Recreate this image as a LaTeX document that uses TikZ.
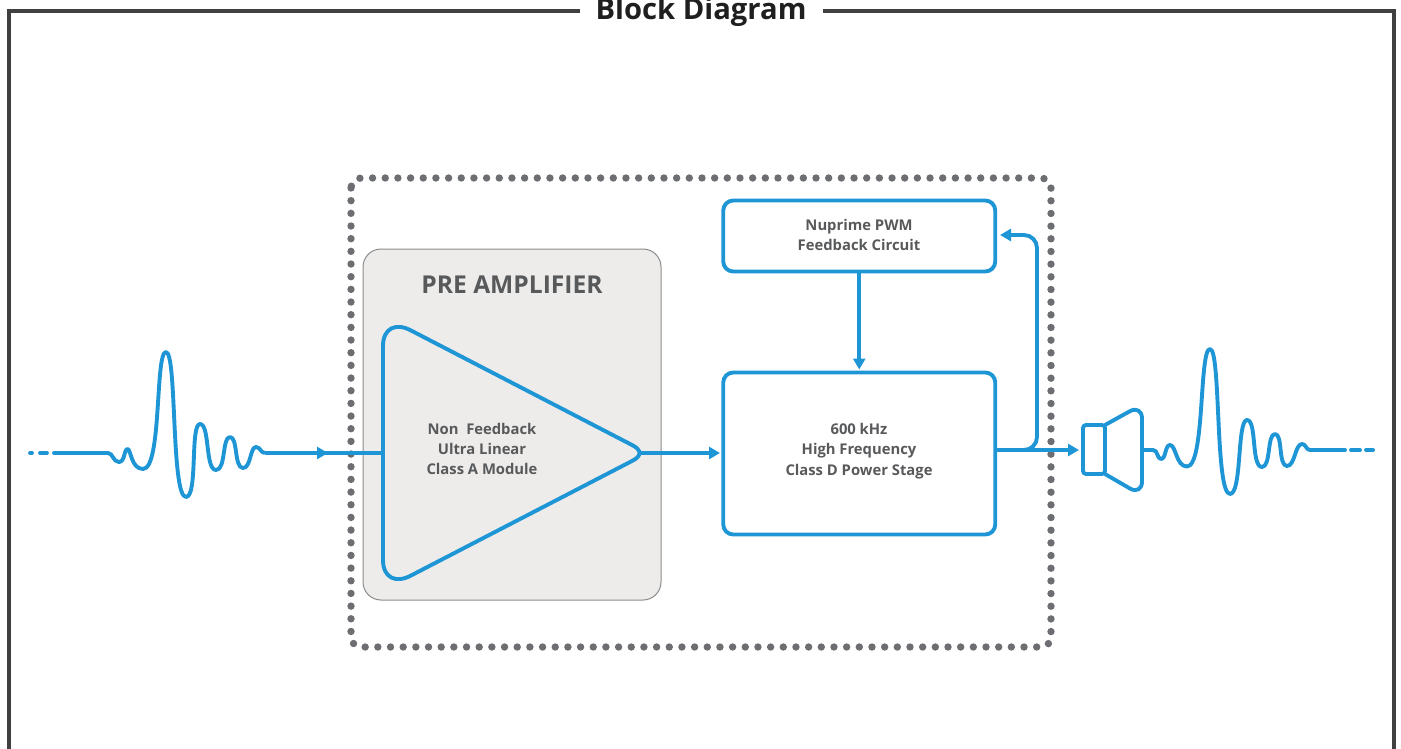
\documentclass[tikz,border=0pt]{standalone}
\usepackage{fontspec}
\setmainfont{Open Sans}
\usetikzlibrary{arrows.meta}
\definecolor{wire}{HTML}{1E96D6}
\definecolor{framec}{HTML}{404040}
\definecolor{dotc}{HTML}{6D6E71}
\definecolor{labelc}{HTML}{58595B}
\definecolor{panel}{HTML}{EDECEB}
\tikzset{
  wire/.style={draw=wire,line width=3.9pt,line join=round},
  arrowline/.style={wire,-{Triangle[length=11pt,width=12pt]}},
  blockbox/.style={draw=wire,line width=3.9pt,rounded corners=10pt,inner sep=0pt,outer sep=0pt},
  lbl/.style={text=labelc,align=center,font=\bfseries\fontsize{14.8}{20.3}\selectfont,inner sep=0pt},
}
\begin{document}
\begin{tikzpicture}[x=1pt,y=-1pt]
\useasboundingbox (0,0) rectangle (1401,749);
% frame
\coordinate (fbl) at (8.5,760);
\coordinate (fbr) at (1394,760);
\coordinate (ftl) at (8.5,11);
\coordinate (ftr) at (1394,11);
\coordinate (tl) at (580,11);
\coordinate (tr) at (823,11);
\draw[framec,line width=4pt] (tl) -- (ftl) -- (fbl);
\draw[framec,line width=4pt] (tr) -- (ftr) -- (fbr);
\node[inner sep=0pt,text=black!88,font=\bfseries\fontsize{29.2}{32}\selectfont,anchor=base] (title) at (701,20) {Block Diagram};
% dotted enclosure
\draw[dotc,line width=7.4pt,line cap=round,dash pattern=on 0pt off 12.67pt,rounded corners=10pt] (351,178) rectangle (1051,647);
% pre amplifier panel
\node[draw=black!45,fill=panel,line width=1pt,rounded corners=18pt,minimum width=298pt,minimum height=351pt,inner sep=0pt,outer sep=0pt] (pre) at (512,424.5) {};
\node[text=labelc,inner sep=0pt,font=\bfseries\fontsize{24.6}{28}\selectfont] (pretitle) at (512,284.5) {PRE AMPLIFIER};
% input wave
\coordinate (inL) at (64,453);
\coordinate (inR) at (265,453);
\coordinate (ampIn) at (383,453);
\coordinate (ampOut) at (640,453);
\draw[wire,line cap=round,dash pattern=on 2pt off 8pt on 7pt off 7pt on 9pt off 0pt] (30,453) -- (inL);
\draw[wire] (inL) -- (108,453)
  .. controls (113,453) and (113,462) .. (119,462)
  .. controls (125,462) and (124,449) .. (127.5,449)
  .. controls (131,449) and (131,469) .. (143,469)
  .. controls (162,469) and (155,352) .. (166,352)
  .. controls (177,352) and (171,497) .. (186,497)
  .. controls (198,497) and (190,424) .. (200,424)
  .. controls (210,424) and (205,470) .. (216,470)
  .. controls (226,470) and (222,437) .. (230,437)
  .. controls (238,437) and (234,468) .. (243,468)
  .. controls (251,468) and (250,447) .. (256,447)
  .. controls (260,447) and (261,453) .. (inR);
\draw[arrowline] (inR) -- (328,453);
\draw[wire] (320,453) -- (ampIn);
% amplifier triangle
\draw[wire] (383,346)
  .. controls (383,328) and (396,322) .. (412,331)
  -- (632,445) .. controls (642,450) and (642,456) .. (632,461)
  -- (412,575) .. controls (396,584) and (383,578) .. (383,560) -- cycle;
\node[lbl] (amp) at (482,449) {Non\ \ Feedback\\Ultra Linear\\Class A Module};
% blocks
\node[blockbox,minimum width=272pt,minimum height=71pt] (pwm) at (859.25,236) {};
\node[lbl] (pwmt) at (859,235) {Nuprime PWM\\Feedback Circuit};
\node[blockbox,minimum width=272pt,minimum height=162pt] (power) at (859.25,453.5) {};
\node[lbl] (powert) at (859,451) {600 kHz\\High Frequency\\Class D Power Stage};
\draw[arrowline] (ampOut) -- (720,453);
\draw[arrowline,shorten >=3pt] (pwm.south) -- (power.north);
% output
\coordinate (pOut) at (995,450);
\coordinate (spk) at (1079,450);
\coordinate (pwmIn) at (1000,235);
\draw[arrowline] (pOut) -- (spk);
\draw[arrowline,rounded corners=13pt] (1020,450) -- (1037,450) -- (1037,235) -- (pwmIn);
% speaker
\draw[wire,rounded corners=3pt] (1083,425) rectangle (1105,474);
\draw[wire,rounded corners=14pt] (1105,425) -- (1142,404.5) -- (1142,495.5) -- (1105,474);
% output wave
\coordinate (outL) at (1142,450);
\coordinate (outR) at (1337,450);
\draw[wire] (outL) -- (1153,450)
  .. controls (1158,450) and (1157,459) .. (1161,459)
  .. controls (1166,459) and (1165,445) .. (1170,445)
  .. controls (1176,445) and (1176,466.5) .. (1187,466.5)
  .. controls (1205,466.5) and (1199,349) .. (1210,349)
  .. controls (1221,349) and (1215,494) .. (1230,494)
  .. controls (1242,494) and (1237,420) .. (1247,420)
  .. controls (1257,420) and (1251,467) .. (1262,467)
  .. controls (1271,467) and (1267,434) .. (1275,434)
  .. controls (1283,434) and (1278,466) .. (1287,466)
  .. controls (1295,466) and (1295,444) .. (1302,444)
  .. controls (1306,444) and (1306,450) .. (1310,450) -- (outR);
\draw[wire,line cap=round,dash pattern=on 8pt off 6pt on 9pt off 6pt on 3pt off 0pt] (outR) -- (1373,450);
\end{tikzpicture}
\end{document}
